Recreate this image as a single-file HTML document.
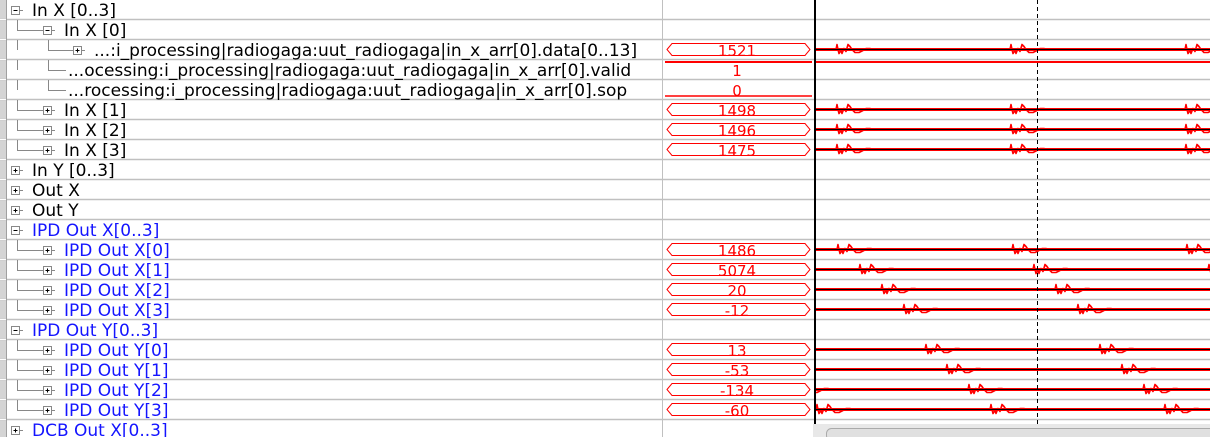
<!DOCTYPE html>
<html><head><meta charset="utf-8">
<style>
html,body{margin:0;padding:0;background:#fff;}
body{width:1210px;height:437px;overflow:hidden;position:relative;font-family:"DejaVu Sans","Liberation Sans",sans-serif;}
svg{position:absolute;left:0;top:0;}
</style></head>
<body>
<svg id="chart" width="1210" height="437" xmlns="http://www.w3.org/2000/svg"></svg>
<script>
// ---- data ----
const signalNames = ["In X [0..3]","In X [0]","...:i_processing|radiogaga:uut_radiogaga|in_x_arr[0].data[0..13]","...ocessing:i_processing|radiogaga:uut_radiogaga|in_x_arr[0].valid","...rocessing:i_processing|radiogaga:uut_radiogaga|in_x_arr[0].sop","In X [1]","In X [2]","In X [3]","In Y [0..3]","Out X","Out Y","IPD Out X[0..3]","IPD Out X[0]","IPD Out X[1]","IPD Out X[2]","IPD Out X[3]","IPD Out Y[0..3]","IPD Out Y[0]","IPD Out Y[1]","IPD Out Y[2]","IPD Out Y[3]","DCB Out X[0..3]"];
const levels = [0,1,2,2,2,1,1,1,0,0,0,0,1,1,1,1,0,1,1,1,1,0];
const expandState = ["-","-","+","","","+","+","+","+","+","+","-","+","+","+","+","-","+","+","+","+","+"];
const blueRows = [11,12,13,14,15,16,17,18,19,20,21];
const cursorValues = [null,null,"1521","1","0","1498","1496","1475",null,null,null,null,"1486","5074","20","-12",null,"13","-53","-134","-60",null];
const burstTimes = [null,null,[21,195,370],"high","low",[21,195,370],[21,195,370],[21,195,370],null,null,null,null,[22,197,371],[44,218,393],[66,240],[88,262],null,[110,284],[131,306],[-21,153,328],[1,175,349],null];
const cursorTime = 0, markerTime = 222;

const NS="http://www.w3.org/2000/svg";
const svg=document.getElementById('chart');
function el(tag,attrs,parent){const e=document.createElementNS(NS,tag);for(const k in attrs)e.setAttribute(k,attrs[k]);(parent||svg).appendChild(e);return e;}
const ROW=20, WAVE_X0=815;
function xScale(t){return WAVE_X0+t;}
function rowY(i){return i*ROW;}

const defs=el('defs',{});
const cp=el('clipPath',{id:'waveclip'},defs);
el('rect',{x:815,y:0,width:395,height:437},cp);
const cp2=el('clipPath',{id:'nameclip'},defs);
el('rect',{x:0,y:0,width:661,height:437},cp2);

el('rect',{x:0,y:0,width:6,height:437,fill:'#d4d4d4'});
for(let i=0;i<22;i++){
  const y=rowY(i+1)-0.5;
  const g=el('line',{x1:0,x2:1210,y1:y,y2:y,stroke:'#c0c0c0','stroke-width':1.5});
  
  
  el('line',{x1:0,x2:6,y1:y,y2:y,stroke:'#fff','stroke-width':1});
}
el('line',{x1:662.5,x2:662.5,y1:0,y2:437,stroke:'#c0c0c0'});
el('line',{x1:6.5,x2:6.5,y1:0,y2:437,stroke:'#a0a0a0'});

const nameLayer=el('g',{'clip-path':'url(#nameclip)'});
signalNames.forEach((name,i)=>{
  const lv=levels[i], y=rowY(i);
  const color=blueRows.includes(i)?'#1414ff':'#000';
  const g=el('g',{},nameLayer);
  
  
  const iconX=[15,47,77][lv];
  if(lv>=1){ el('line',{x1:17.5,x2:17.5,y1:y,y2:y+10,stroke:'#888'},g); }
  if(lv===2){ el('line',{x1:48.5,x2:48.5,y1:y,y2:y+10,stroke:'#888'},g); }
  let textX;
  if(expandState[i]){
    const hx=lv===0?17:(lv===1?17:48);
    if(lv>=1) el('line',{x1:hx,x2:iconX-3,y1:y+10.5,y2:y+10.5,stroke:'#888'},g);
    const b=el('rect',{x:iconX-3.5,y:y+6.5,width:8,height:8,fill:'#fff',stroke:'#888'},g);
    
    
    el('line',{x1:iconX-1.5,x2:iconX+2.5,y1:y+10.5,y2:y+10.5,stroke:'#000'},g);
    if(expandState[i]==='+') el('line',{x1:iconX+0.5,x2:iconX+0.5,y1:y+8.5,y2:y+12.5,stroke:'#000'},g);
    el('line',{x1:iconX+5,x2:iconX+8,y1:y+10.5,y2:y+10.5,stroke:'#888'},g);
    textX=iconX+17;
  } else {
    el('line',{x1:48,x2:66,y1:y+10.5,y2:y+10.5,stroke:'#888'},g);
    textX=68;
  }
  const t=el('text',{x:textX,y:y+16,fill:color,'font-size':17},g);
  t.textContent=name;
});

signalNames.forEach((name,i)=>{
  const y=rowY(i);
  const v=cursorValues[i];
  if(v!==null){
    const vg=el('g',{});
    
    
    if(burstTimes[i]==='high'){el('line',{x1:665,x2:812,y1:y+2,y2:y+2,stroke:'#f00','stroke-width':2},vg);}
    else if(burstTimes[i]==='low'){el('line',{x1:665,x2:812,y1:y+16,y2:y+16,stroke:'#f00','stroke-width':1.5},vg);}
    else el('polygon',{points:`667,${y+9.5} 672,${y+3.5} 805,${y+3.5} 810,${y+9.5} 805,${y+15.5} 672,${y+15.5}`,fill:'none',stroke:'#f00'},vg);
    const vt=el('text',{x:737,y:y+16,fill:'#f00','font-size':15,'text-anchor':'middle'},vg);
    vt.textContent=v;
  }
  const bt=burstTimes[i];
  if(bt==='high'){const w=el('line',{x1:815,x2:1210,y1:y+2,y2:y+2,stroke:'#f00','stroke-width':2});}
  else if(Array.isArray(bt)){
    const wg=el('g',{'clip-path':'url(#waveclip)'});
    
    
    const cy=y+9.5;
    el('line',{x1:815,x2:1210,y1:cy,y2:cy,stroke:'#f00','stroke-width':3},wg);
    const shape=[[0,0],[1,-5],[2,0],[3,4],[5,1],[6,4],[8,-1],[10,2],[12,-5],[14,-3],[16,0],[19,3],[23,3],[27,1],[30,-1],[34,-1],[37,0]];
    bt.forEach(tb=>{
      const x0=xScale(tb);
      const pts=shape.map(p=>(x0+p[0])+','+(cy+p[1])).join(' ');
      el('polyline',{points:pts,fill:'none',stroke:'#f00','stroke-width':1.6,'stroke-linejoin':'round'},wg);
    });
    el('line',{x1:815,x2:1210,y1:cy,y2:cy,stroke:'#000','stroke-width':1},wg);
  }
});
const c=el('line',{x1:xScale(cursorTime),x2:xScale(cursorTime),y1:0,y2:425,stroke:'#000','stroke-width':2});


const m=el('line',{x1:xScale(markerTime)+0.5,x2:xScale(markerTime)+0.5,y1:0,y2:425,stroke:'#000','stroke-width':1,'stroke-dasharray':'4,3'});


const sb=el('rect',{x:813,y:424,width:397,height:13,fill:'#e8e8e8'});


const th=el('rect',{x:826.5,y:428.5,width:390,height:12,rx:5,fill:'#e0e0e0',stroke:'#aaa'});


</script>
</body></html>
